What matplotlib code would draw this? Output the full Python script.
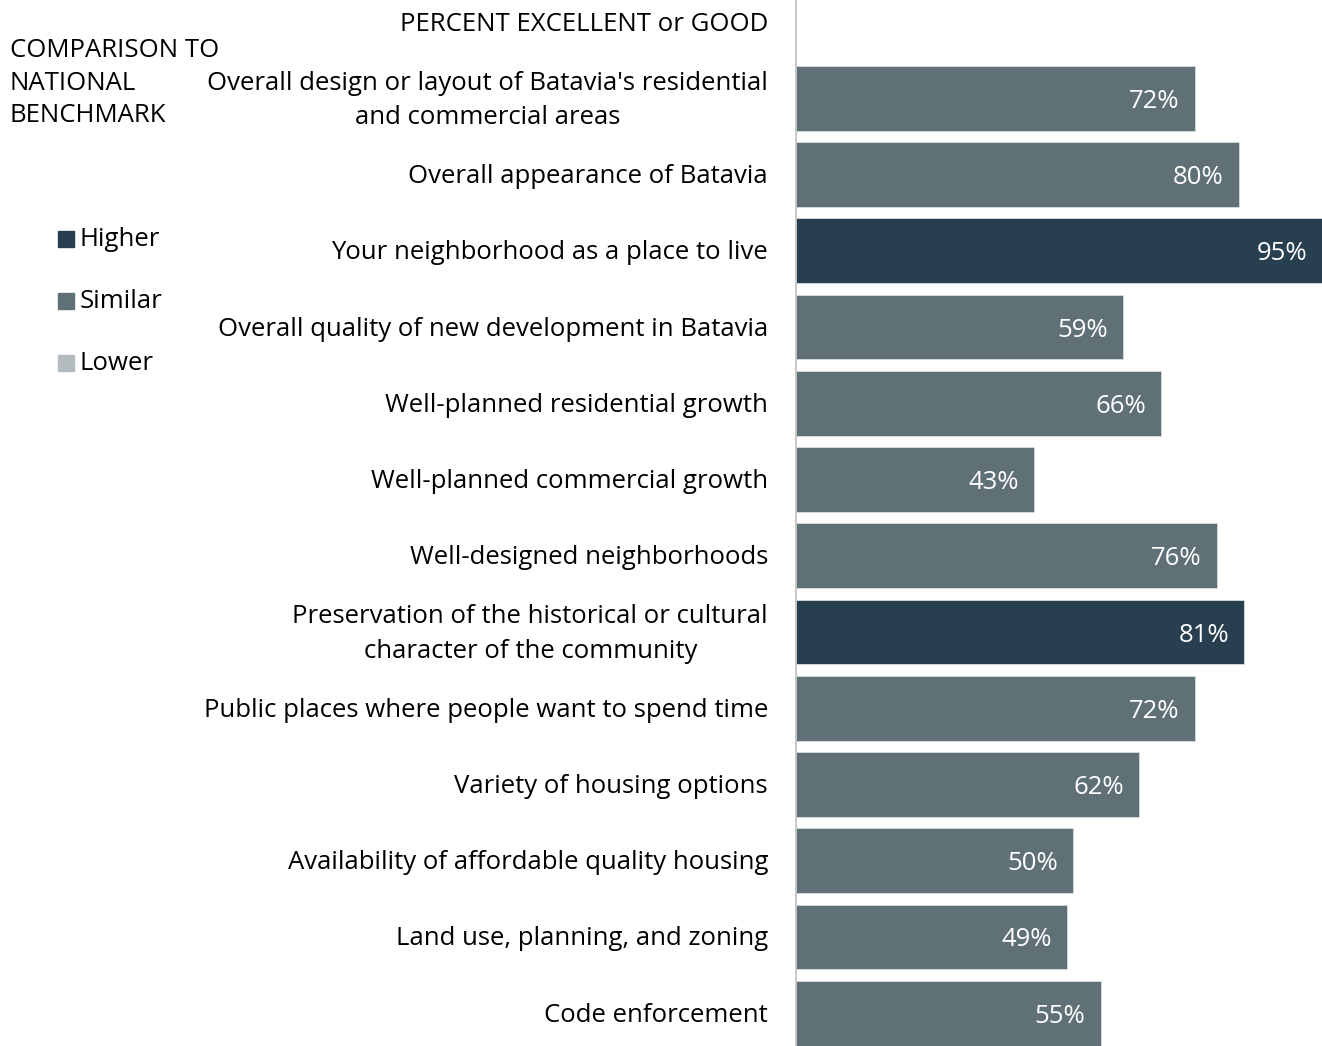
import matplotlib
matplotlib.use("Agg")
import matplotlib.pyplot as plt
from matplotlib.patches import Rectangle

plt.rcParams['font.family'] = ['Open Sans', 'DejaVu Sans']

categories = [
    "Overall design or layout of Batavia's residential\nand commercial areas",
    "Overall appearance of Batavia",
    "Your neighborhood as a place to live",
    "Overall quality of new development in Batavia",
    "Well-planned residential growth",
    "Well-planned commercial growth",
    "Well-designed neighborhoods",
    "Preservation of the historical or cultural\ncharacter of the community",
    "Public places where people want to spend time",
    "Variety of housing options",
    "Availability of affordable quality housing",
    "Land use, planning, and zoning",
    "Code enforcement",
]
values = [72, 80, 95, 59, 66, 43, 76, 81, 72, 62, 50, 49, 55]
comparison = ["Similar", "Similar", "Higher", "Similar", "Similar", "Similar", "Similar",
              "Higher", "Similar", "Similar", "Similar", "Similar", "Similar"]
legend_labels = ["Higher", "Similar", "Lower"]

colors = {"Higher": "#283F4F", "Similar": "#5F7076", "Lower": "#B3BBBE"}
fs = 18.5

W, H = 1322, 1046
fig = plt.figure(figsize=(W / 100, H / 100), dpi=100)
ax = fig.add_axes([796 / W, 0, 1 - 796 / W, 1])

ypos = list(range(len(categories)))
ax.barh(ypos, values, height=0.85, color=[colors[c] for c in comparison],
        edgecolor="#D9DEE0", linewidth=0.6)
ax.set_xlim(0, 95)
ax.set_ylim(12.43, -1.29)

for y, v in zip(ypos, values):
    ax.annotate(f"{v}%", xy=(v, y), xytext=(-15, -3), textcoords="offset pixels",
                ha="right", va="center", color="white", fontsize=fs)

for y, lab in zip(ypos, categories):
    ax.annotate(lab, xy=(0, y), xytext=(-28, -2), textcoords="offset pixels",
                ha="right", va="center", multialignment="center",
                fontsize=fs, color="black", linespacing=1.5)

ax.annotate("PERCENT EXCELLENT or GOOD", xy=(0, -1), xytext=(-28, -2),
            textcoords="offset pixels", ha="right", va="center", fontsize=fs)

ax.set_xticks([])
ax.set_yticks([])
for s in ["top", "right", "bottom"]:
    ax.spines[s].set_visible(False)
ax.spines["left"].set_color("#BFBFBF")
ax.spines["left"].set_linewidth(1.2)

# legend
fig.text(10 / W, 1 - 83 / H, "COMPARISON TO\nNATIONAL\nBENCHMARK", ha="left", va="center",
         fontsize=fs, linespacing=1.4)
for i, lab in enumerate(legend_labels):
    yc = 239 + 62 * i
    fig.add_artist(Rectangle((58 / W, 1 - (yc + 8) / H), 16 / W, 16 / H,
                             transform=fig.transFigure, color=colors[lab]))
    fig.text(80 / W, 1 - yc / H, lab, ha="left", va="center", fontsize=fs)

fig.savefig("out.png", dpi=100)
